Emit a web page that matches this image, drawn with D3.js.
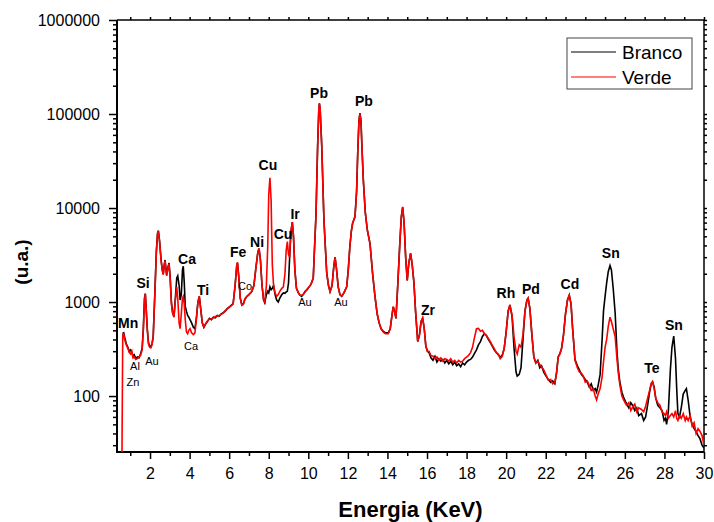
<!DOCTYPE html>
<html>
<head>
<meta charset="utf-8">
<script src="https://cdn.jsdelivr.net/npm/d3@7"></script>
<style>
  body { margin: 0; background: #fff; }
  text { font-family: "Liberation Sans", Arial, sans-serif; }
</style>
</head>
<body>
<svg width="714" height="522"></svg>
<script>
// XRF spectrum, two samples (Branco / Verde), log y axis

// energy (KeV) shared by both series
var energia = [
  0.58, 0.62, 0.66, 0.72, 0.80, 0.88, 0.95, 1.02, 1.08, 1.14, 1.20, 1.28, 1.36, 1.44, 1.52, 1.60, 1.66, 1.72, 1.76, 1.80, 1.86, 1.92, 1.98, 2.04, 2.10, 2.16,
  2.24, 2.32, 2.38, 2.42, 2.48, 2.56, 2.62, 2.67, 2.72, 2.76, 2.80, 2.84, 2.90, 2.96, 3.02, 3.08, 3.14, 3.21,
  3.28, 3.35, 3.40, 3.47, 3.52, 3.58, 3.64, 3.68, 3.73, 3.78, 3.84, 3.90, 3.96, 4.02, 4.10, 4.19, 4.27,
  4.35, 4.42, 4.49, 4.56, 4.64, 4.72, 4.80, 4.90, 5.0, 5.1, 5.2, 5.3, 5.4, 5.5, 5.6, 5.7, 5.8, 5.9, 6.0, 6.1, 6.2,
  6.3, 6.38, 6.42, 6.48, 6.56, 6.64, 6.72, 6.80, 6.90, 7.0, 7.14, 7.25, 7.35, 7.45, 7.51, 7.58, 7.66, 7.74, 7.80,
  7.88, 7.95, 8.00, 8.06, 8.12, 8.18, 8.24, 8.32, 8.40, 8.48, 8.56, 8.66, 8.74, 8.82, 8.88, 8.94, 9.00, 9.05,
  9.12, 9.19, 9.25, 9.32, 9.40, 9.50, 9.58, 9.66, 9.74, 9.84, 9.94, 10.04, 10.14, 10.25,
  10.32, 10.39, 10.47, 10.53, 10.56, 10.60, 10.68, 10.79, 10.93, 11.02, 11.10, 11.20, 11.28, 11.35, 11.42, 11.51, 11.60, 11.69, 11.80, 11.94,
  12.02, 12.10, 12.18, 12.24, 12.36, 12.44, 12.50, 12.56, 12.61, 12.66, 12.72, 12.78, 12.88, 12.98, 13.12,
  13.25, 13.37, 13.48, 13.58, 13.68, 13.78, 13.90, 14.04, 14.14, 14.22, 14.29, 14.36, 14.43, 14.52, 14.62, 14.70, 14.77, 14.84, 14.92, 15.00, 15.08, 15.17, 15.25, 15.34, 15.42, 15.53, 15.62, 15.70, 15.78, 15.86, 15.94, 16.02, 16.10,
  16.2, 16.3, 16.4, 16.5, 16.6, 16.7, 16.8, 16.9, 17.0, 17.1, 17.2, 17.3, 17.4, 17.5, 17.6, 17.7, 17.8, 17.9, 18.0, 18.1, 18.2, 18.3, 18.4, 18.5, 18.6, 18.7, 18.8, 18.9, 19.0, 19.1, 19.2, 19.3, 19.4, 19.5, 19.6, 19.7, 19.8, 19.9,
  20.0, 20.1, 20.19, 20.3, 20.4, 20.5, 20.56, 20.66, 20.75, 20.85, 20.95, 21.05, 21.11,
  21.2, 21.3, 21.4, 21.5, 21.6, 21.7, 21.79, 21.9, 22.0, 22.13, 22.25, 22.35, 22.46,
  22.55, 22.63, 22.72, 22.8, 22.9, 23.0, 23.1, 23.19, 23.28, 23.36, 23.48, 23.6, 23.7, 23.8, 23.9, 24.0, 24.1, 24.2, 24.3, 24.4, 24.5, 24.57,
  24.65, 24.75, 24.85, 24.92, 25.0, 25.08, 25.16, 25.25, 25.32, 25.41, 25.51, 25.6, 25.67, 25.75, 25.85, 25.95,
  26.08, 26.2, 26.3, 26.42, 26.5, 26.6, 26.7, 26.84, 26.95, 27.05,
  27.15, 27.25, 27.33, 27.40, 27.48, 27.56, 27.66, 27.77, 27.88, 27.98, 28.05, 28.11,
  28.2, 28.3, 28.38, 28.47, 28.56, 28.62, 28.68, 28.76, 28.85, 28.95, 29.05, 29.11, 29.2, 29.3, 29.4, 29.5, 29.6, 29.7, 29.8, 29.9, 30.0
];

// counts, black curve
var branco = [
  null, 420, 480, 420, 360, 330, 300, 310, 290, 265, 275, 250, 260, 255, 280, 320, 520, 1100, 1230, 900, 520, 370, 340, 335, 360, 430,
  1200, 3500, 5400, 5750, 4500, 2800, 2200, 2000, 2500, 2800, 2300, 1950, 2300, 2600, 1800, 1000, 780, 700,
  1100, 1800, 1900, 1500, 1050, 1200, 2200, 2400, 1600, 900, 800, 720, 690, 650, 600, 540, 520,
  700, 1000, 1150, 850, 600, 540, 580, 620, 670, 650, 690, 680, 720, 710, 750, 770, 800, 850, 880, 920, 960,
  1500, 2400, 2600, 1900, 1100, 930, 960, 1080, 1150, 1200, 1290, 1500, 2300, 3400, 3700, 2800, 1500, 1050, 980,
  1200, 1300, 1250, 1450, 1350, 1400, 1500, 1200, 1050, 1000, 1100, 1200, 1250, 1240, 1280, 1300, 1600, 2800,
  5500, 7100, 5000, 2200, 1400, 1250, 1180, 1150, 1200, 1300, 1350, 1450, 1550, 1800,
  4000, 8700, 45000, 110000, 129000, 110000, 45000, 7400, 2040, 1500, 1290, 1500, 2300, 3000, 2300, 1450, 1200, 1150, 1250, 1450,
  2200, 3900, 5800, 6900, 8100, 15000, 40000, 85000, 102000, 85000, 40000, 20000, 9000, 5900, 4150,
  2000, 1150, 750, 600, 520, 490, 470, 470, 520, 700, 890, 800, 670, 1500, 4000, 8000, 10200, 7000, 3000, 1700, 2600, 3300, 2500, 1600, 800, 380, 450, 620, 670, 520, 340, 300, 290,
  255, 240, 265, 230, 250, 235, 245, 225, 240, 220, 235, 215, 230, 210, 220, 205, 225, 215, 230, 240, 245, 260, 285, 310, 350, 380, 430, 460, 440, 400, 370, 340, 310, 290, 275, 260, 270, 320,
  480, 800, 930, 700, 320, 180, 163, 170, 200, 400, 800, 1050, 1100,
  850, 450, 260, 225, 240, 200, 210, 180, 165, 150, 140, 145, 135,
  180, 260, 285, 320, 450, 750, 1050, 1180, 950, 520, 245, 210, 190, 170, 160, 150, 140, 125, 135, 115, 120, 110,
  130, 170, 400, 800, 1150, 1600, 2100, 2450, 2200, 1400, 760, 300, 190, 140, 110, 95,
  83, 75, 85, 78, 70, 75, 62, 65, 55, 60,
  80, 110, 135, 142, 125, 95, 80, 75, 70, 55, 58, 50,
  70, 190, 330, 435, 250, 120, 65, 60, 75, 105, 115, 120, 90, 60, 50, 45, 42, 38, 35, 30, 28
];

// counts, red curve
var verde = [
  22, 430, 470, 400, 350, 320, 290, 280, 300, 255, 260, 245, 250, 262, 270, 310, 500, 1050, 1220, 880, 510, 360, 330, 325, 350, 420,
  1150, 3400, 5300, 5700, 4400, 2750, 2150, 1950, 2450, 2750, 2250, 1900, 2250, 2550, 1750, 950, 760, 690,
  1050, 1450, 1100, 600, 520, 750, 1100, 1150, 950, 650, 480, 460, 500, 520, 470, 450, 470,
  680, 1000, 1150, 850, 600, 540, 580, 630, 660, 660, 680, 700, 710, 720, 740, 760, 810, 840, 890, 910, 950,
  1500, 2450, 2650, 1900, 1100, 930, 950, 1080, 1150, 1200, 1290, 1500, 2300, 3400, 3700, 2800, 1500, 1050, 1000,
  1500, 4000, 14000, 21000, 12000, 2500, 1550, 1250, 1150, 1200, 1300, 1400, 1450, 2000, 3500, 4400, 3200, 3000,
  5600, 7100, 5000, 2200, 1400, 1250, 1180, 1180, 1200, 1280, 1380, 1450, 1550, 1800,
  4000, 8700, 45000, 112000, 131000, 112000, 45000, 7400, 2040, 1500, 1290, 1500, 2300, 3000, 2300, 1450, 1200, 1150, 1250, 1450,
  2200, 3900, 5800, 6900, 8100, 15000, 40000, 85000, 101000, 85000, 40000, 20000, 9000, 5900, 4150,
  2000, 1150, 750, 600, 520, 480, 460, 460, 520, 700, 890, 800, 670, 1500, 4000, 8100, 10300, 7000, 3000, 1700, 2600, 3300, 2500, 1600, 800, 380, 450, 620, 680, 520, 340, 300, 300,
  270, 265, 250, 260, 240, 255, 235, 250, 245, 235, 250, 230, 240, 225, 240, 230, 235, 250, 260, 270, 290, 330, 420, 520, 525, 490, 500, 460, 440, 410, 380, 345, 320, 290, 280, 250, 265, 320,
  480, 800, 930, 720, 420, 300, 280, 350, 330, 450, 800, 1050, 1100,
  850, 450, 260, 225, 235, 215, 205, 190, 170, 148, 150, 135, 140,
  175, 260, 280, 320, 450, 750, 1050, 1180, 950, 520, 240, 200, 180, 175, 163, 140, 145, 130, 115, 120, 100, 91,
  105, 120, 160, 230, 330, 400, 550, 690, 620, 520, 427, 250, 175, 130, 100, 90,
  80, 85, 70, 78, 82, 68, 75, 72, 68, 78,
  95, 115, 135, 142, 120, 95, 85, 80, 68, 65, 62, 68,
  58, 62, 65, 60, 70, 58, 55, 62, 58, 65, 55, 60, 55, 62, 48, 52, 40, 45, 42, 38, 30
];

// peak labels (energy, counts where the label sits)
var bigNames = ['Mn', 'Si', 'Ca', 'Ti', 'Fe', 'Ni', 'Cu', 'Cu', 'Ir', 'Pb', 'Pb', 'Zr', 'Rh', 'Pd', 'Cd', 'Sn', 'Te', 'Sn'];
var bigE = [0.89, 1.65, 3.87, 4.68, 6.45, 7.41, 7.96, 8.72, 9.33, 10.54, 12.81, 16.05, 19.99, 21.25, 23.22, 25.29, 27.37, 28.48];
var bigV = [600, 1590, 2860, 1340, 3400, 4350, 28600, 5280, 8630, 167000, 137000, 822, 1250, 1375, 1550, 3320, 199, 569];

var smallNames = ['Al', 'Zn', 'Au', 'Ca', 'Co', 'Au', 'Au'];
var smallE = [1.24, 1.14, 2.10, 4.07, 6.80, 9.83, 11.65];
var smallV = [208, 141, 236, 341, 1480, 1000, 1000];

var xTicks = d3.range(2, 31, 2);
var xMinor = d3.range(1, 30, 2);
var yTicks = [100, 1000, 10000, 100000, 1000000];

var svg = d3.select('svg');
// plot box (window.top is reserved, so pTop etc.)
var pLeft = 117, pRight = 704, pTop = 20, pBottom = 452;

var x = d3.scaleLinear().domain([0.33, 30]).range([pLeft, pRight]);
var y = d3.scaleLog().domain([25.4, 1e6]).range([pBottom, pTop]);

// minor log ticks 2..9 per decade
var yMinor = [];
[10, 100, 1000, 10000, 100000].forEach(function (dec) {
  for (var k = 2; k <= 9; k++) {
    if (dec * k >= 25.4) yMinor.push(dec * k);
  }
});

// ---- axes
svg.append('g').attr('transform', 'translate(0,' + pBottom + ')')
  .call(d3.axisBottom(x).tickValues(xTicks).tickFormat(d3.format('d')).tickSize(7).tickPadding(9));
svg.append('g').attr('transform', 'translate(0,' + pBottom + ')')
  .call(d3.axisBottom(x).tickValues(xMinor).tickFormat('').tickSize(4));

svg.append('g').attr('transform', 'translate(' + pLeft + ',0)')
  .call(d3.axisLeft(y).tickValues(yTicks).tickFormat(d3.format('d')).tickSize(8).tickPadding(9));
svg.append('g').attr('transform', 'translate(' + pLeft + ',0)')
  .call(d3.axisLeft(y).tickValues(yMinor).tickFormat('').tickSize(4));

// mirrored ticks top/right, no labels
svg.append('g').attr('transform', 'translate(0,' + pTop + ')')
  .call(d3.axisTop(x).tickValues(d3.range(1, 31)).tickFormat('').tickSize(3));
svg.append('g').attr('transform', 'translate(' + pRight + ',0)')
  .call(d3.axisRight(y).tickValues(yTicks.concat(yMinor)).tickFormat('').tickSize(3));

svg.selectAll('.domain').remove();
svg.selectAll('.tick line').attr('stroke', '#000').attr('stroke-width', 1.5);
svg.selectAll('.tick text').attr('fill', '#000').style('font-size', '16px');

// frame
svg.append('line').attr('x1', pLeft).attr('x2', pLeft).attr('y1', pTop).attr('y2', pBottom + 1)
  .attr('stroke', '#000').attr('stroke-width', 2);
svg.append('line').attr('x1', pLeft - 1).attr('x2', pRight).attr('y1', pBottom).attr('y2', pBottom)
  .attr('stroke', '#000').attr('stroke-width', 2);
svg.append('line').attr('x1', pLeft).attr('x2', pRight).attr('y1', pTop).attr('y2', pTop)
  .attr('stroke', '#000').attr('stroke-width', 1.5);
svg.append('line').attr('x1', pRight).attr('x2', pRight).attr('y1', pTop).attr('y2', pBottom)
  .attr('stroke', '#000').attr('stroke-width', 1.5);

// ---- curves
svg.append('clipPath').attr('id', 'plot')
  .append('rect').attr('x', pLeft).attr('y', pTop).attr('width', pRight - pLeft).attr('height', pBottom - pTop);

var line = d3.line()
  .defined(function (d) { return d.v != null; })
  .x(function (d) { return x(d.e); })
  .y(function (d) { return y(Math.max(d.v, 20)); });

function pts(vals) {
  return energia.map(function (e, i) { return { e: e, v: vals[i] }; });
}

var curves = svg.append('g').attr('clip-path', 'url(#plot)');
curves.append('path').datum(pts(branco)).attr('d', line)
  .attr('fill', 'none').attr('stroke', '#000').attr('stroke-width', 1.6);
curves.append('path').datum(pts(verde)).attr('d', line)
  .attr('fill', 'none').attr('stroke', '#ff0000').attr('stroke-width', 1.6);

// ---- peak labels
svg.selectAll('.big').data(bigNames).enter().append('text')
  .attr('x', function (d, i) { return x(bigE[i]); })
  .attr('y', function (d, i) { return y(bigV[i]); })
  .attr('text-anchor', 'middle').attr('dominant-baseline', 'central')
  .style('font-size', '14px').style('font-weight', 'bold')
  .text(function (d) { return d; });

svg.selectAll('.small').data(smallNames).enter().append('text')
  .attr('x', function (d, i) { return x(smallE[i]); })
  .attr('y', function (d, i) { return y(smallV[i]); })
  .attr('text-anchor', 'middle').attr('dominant-baseline', 'central')
  .style('font-size', '11px')
  .text(function (d) { return d; });

// ---- legend
var lg = svg.append('g').attr('transform', 'translate(567,38)');
lg.append('rect').attr('width', 125).attr('height', 51)
  .attr('fill', '#fff').attr('stroke', '#444').attr('stroke-width', 1);
[['Branco', '#000'], ['Verde', '#ff0000']].forEach(function (s, i) {
  var yy = 14 + i * 25;
  lg.append('line').attr('x1', 4).attr('x2', 49).attr('y1', yy).attr('y2', yy)
    .attr('stroke', s[1]).attr('stroke-width', 1.2);
  lg.append('text').attr('x', 55).attr('y', yy).attr('dominant-baseline', 'central')
    .style('font-size', '19px').text(s[0]);
});

// ---- axis titles
svg.append('text').attr('x', (pLeft + pRight) / 2).attr('y', 517)
  .attr('text-anchor', 'middle').style('font-size', '22px').style('font-weight', 'bold')
  .text('Energia (KeV)');
svg.append('text').attr('transform', 'translate(28,262) rotate(-90)')
  .attr('text-anchor', 'middle').style('font-size', '19px').style('font-weight', 'bold')
  .text('(u.a.)');
</script>
</body>
</html>
